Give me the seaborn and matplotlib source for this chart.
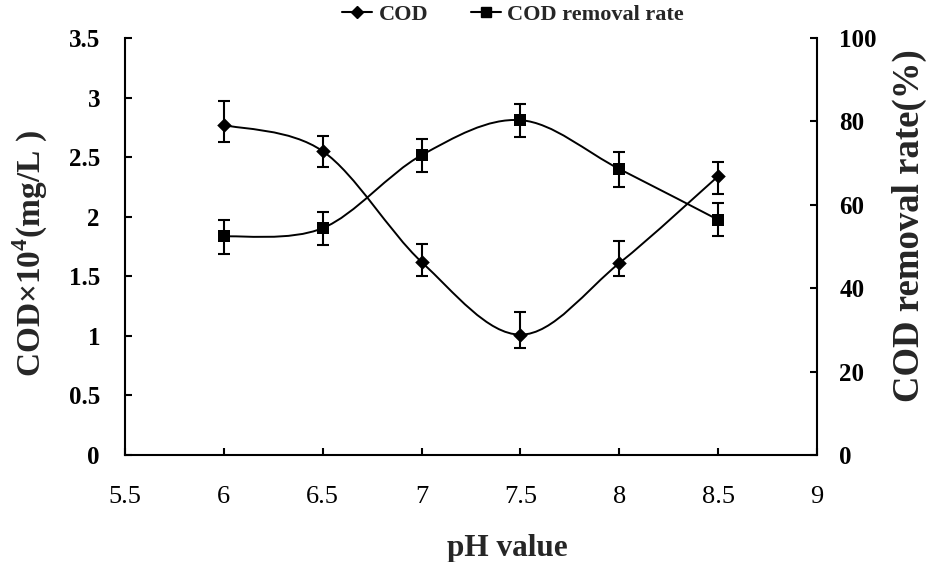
import numpy as np
import pandas as pd
import seaborn as sns
import matplotlib
matplotlib.use("Agg")
import matplotlib.pyplot as plt
from matplotlib.path import Path
from matplotlib.patches import PathPatch
from matplotlib.lines import Line2D
from matplotlib.ticker import FixedLocator, FuncFormatter

# pH series and measurements
ph = [6.0, 6.5, 7.0, 7.5, 8.0, 8.5]
cod = [2.77, 2.55, 1.62, 1.01, 1.61, 2.34]          # COD, x10^4 mg/L
cod_err_low = [0.14, 0.13, 0.12, 0.11, 0.11, 0.15]
cod_err_high = [0.20, 0.13, 0.15, 0.19, 0.19, 0.12]
removal = [52.4, 54.4, 71.9, 80.3, 68.6, 56.4]      # COD removal rate, %
removal_err_low = [4.1, 4.0, 4.1, 4.0, 4.3, 3.9]
removal_err_high = [4.0, 3.9, 3.9, 3.9, 4.0, 4.0]

x_ticks = [5.5, 6, 6.5, 7, 7.5, 8, 8.5, 9]
left_ticks = [0, 0.5, 1, 1.5, 2, 2.5, 3, 3.5]
right_ticks = [0, 20, 40, 60, 80, 100]

sns.set_style("ticks")
plt.rcParams["font.family"] = ["Liberation Serif", "DejaVu Serif"]
plt.rcParams["mathtext.fontset"] = "custom"
plt.rcParams["mathtext.rm"] = "Liberation Serif"
plt.rcParams["mathtext.bf"] = "Liberation Serif:bold"

df = pd.DataFrame({"ph": ph, "cod": cod, "removal": removal})

fig = plt.figure(figsize=(9.27, 5.62), dpi=100)
ax = fig.add_axes([125 / 927, 1 - 455 / 562, (817 - 125) / 927, (455 - 38) / 562])
ax2 = ax.twinx()


def smooth_path(xs, ys):
    """Smoothed polyline as cubic Bezier segments (Catmull-Rom style, tension 1/6)."""
    pts = np.column_stack([xs, ys])
    n = len(pts)
    verts = [pts[0]]
    codes = [Path.MOVETO]
    for i in range(n - 1):
        p_prev = pts[i - 1] if i > 0 else pts[i]
        p0, p1 = pts[i], pts[i + 1]
        p_next = pts[i + 2] if i + 2 < n else pts[i + 1]
        c1 = p0 + (p1 - p_prev) / 6.0
        c2 = p1 - (p_next - p0) / 6.0
        verts += [c1, c2, p1]
        codes += [Path.CURVE4] * 3
    return Path(verts, codes)


lw = 1.4
ax.add_patch(PathPatch(smooth_path(df["ph"], df["cod"]), facecolor="none",
                       edgecolor="black", lw=lw, zorder=2))
ax2.add_patch(PathPatch(smooth_path(df["ph"], df["removal"]), facecolor="none",
                        edgecolor="black", lw=lw, zorder=2))

ax.errorbar(ph, cod, yerr=[cod_err_low, cod_err_high], fmt="none",
            ecolor="black", elinewidth=1.5, capsize=4, capthick=1.5, zorder=3)
ax2.errorbar(ph, removal, yerr=[removal_err_low, removal_err_high], fmt="none",
             ecolor="black", elinewidth=1.5, capsize=4, capthick=1.5, zorder=3)

sns.scatterplot(data=df, x="ph", y="cod", ax=ax, marker="D", s=55,
                color="black", edgecolor="black", linewidth=0, zorder=4, legend=False)
sns.scatterplot(data=df, x="ph", y="removal", ax=ax2, marker="s", s=85,
                color="black", edgecolor="black", linewidth=0, zorder=4, legend=False)

ax.set_xlim(5.5, 9)
ax.set_ylim(0, 3.5)
ax2.set_ylim(0, 100)

ax.xaxis.set_major_locator(FixedLocator(x_ticks))
ax.xaxis.set_major_formatter(FuncFormatter(lambda v, p: f"{v:g}"))
ax.yaxis.set_major_locator(FixedLocator(left_ticks))
ax.yaxis.set_major_formatter(FuncFormatter(lambda v, p: f"{v:g}"))
ax2.yaxis.set_major_locator(FixedLocator(right_ticks))
ax2.yaxis.set_major_formatter(FuncFormatter(lambda v, p: f"{v:g}"))

for a in (ax, ax2):
    a.spines["top"].set_visible(False)
    for s in a.spines.values():
        s.set_linewidth(1.5)
        s.set_color("black")
ax.spines["right"].set_visible(False)
ax2.spines["left"].set_visible(False)
ax2.spines["bottom"].set_visible(False)

ax.tick_params(axis="x", direction="in", length=5, width=1.5, pad=22,
               labelsize=19, colors="black")
ax.tick_params(axis="y", direction="in", length=5, width=1.5, pad=18,
               labelsize=18, colors="black")
ax2.tick_params(axis="y", direction="in", length=5, width=1.5, pad=16,
                labelsize=18, colors="black")
for lab in ax.get_yticklabels() + ax2.get_yticklabels():
    lab.set_fontweight("bold")

ax.set_xlabel("pH value", fontsize=22.5, fontweight="bold")
ax.xaxis.set_label_coords(0.552, -0.19)
ax.set_ylabel(r"COD×10$^{\mathbf{4}}$(mg/L )", fontsize=24, fontweight="bold")
ax.yaxis.set_label_coords(-0.109, 0.484)
ax2.set_ylabel("COD removal rate(%)", fontsize=26.5, fontweight="bold")
ax2.yaxis.set_label_coords(1.108, 0.55)

handles = [
    Line2D([], [], color="black", lw=1.5, marker="D", markersize=6),
    Line2D([], [], color="black", lw=1.5, marker="s", markersize=7),
]
fig.legend(handles, ["COD", "COD removal rate"], loc="center",
           bbox_to_anchor=(513 / 927, 1 - 15 / 562), ncol=2, frameon=False,
           prop={"weight": "bold", "size": 16}, handlelength=1.35,
           handletextpad=0.3, columnspacing=1.9)

fig.savefig("out.png", dpi=100)
